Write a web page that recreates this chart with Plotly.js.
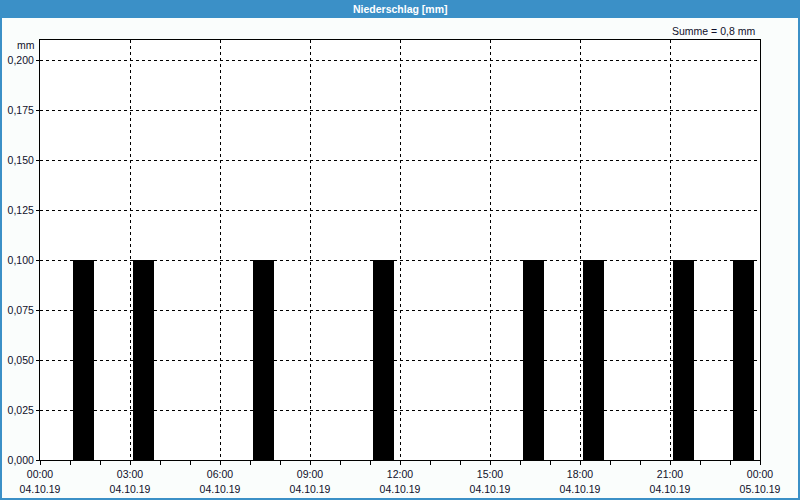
<!DOCTYPE html>
<html>
<head>
<meta charset="utf-8">
<script src="https://cdn.plot.ly/plotly-3.0.1.min.js"></script>
<style>html,body{margin:0;padding:0;background:#fafdfc;}#chart{width:800px;height:500px;}</style>
</head>
<body>
<div id="chart"></div>
<script>
const barTimes = ['2019-10-04 01:00','2019-10-04 03:00','2019-10-04 07:00','2019-10-04 11:00','2019-10-04 16:00','2019-10-04 18:00','2019-10-04 21:00','2019-10-04 23:00'];
const barValues = [0.1,0.1,0.1,0.1,0.1,0.1,0.1,0.1];
const tickTimes = ['2019-10-04 00:00','2019-10-04 03:00','2019-10-04 06:00','2019-10-04 09:00','2019-10-04 12:00','2019-10-04 15:00','2019-10-04 18:00','2019-10-04 21:00','2019-10-05 00:00'];
const timeLabels = ['00:00','03:00','06:00','09:00','12:00','15:00','18:00','21:00','00:00'];
const dateLabels = ['04.10.19','04.10.19','04.10.19','04.10.19','04.10.19','04.10.19','04.10.19','04.10.19','05.10.19'];
const yTicks = [0,0.025,0.05,0.075,0.1,0.125,0.15,0.175,0.2];
const yLabels = ['0,000','0,025','0,050','0,075','0,100','0,125','0,150','0,175','0,200'];
const chartTitle = 'Niederschlag [mm]';
const sumText = 'Summe = 0,8 mm';
const unitText = 'mm';

const H = 3600000;
const W = 800, Ht = 500, L = 40, R = 40, T = 40, B = 40;
const pw = W - L - R, ph = Ht - T - B;
const px = v => (v - L) / pw;
const py = v => (Ht - B - v) / ph;

const FAM = 'Liberation Sans, Arial, sans-serif';
const font = {family: FAM, size: 10.5, color: '#10102a'};

const trace = {
  type: 'bar',
  x: barTimes,
  y: barValues,
  width: barTimes.map(() => 0.7 * H),
  offset: barTimes.map(() => 0.1 * H),
  marker: {color: '#000000', line: {width: 0}},
  hoverinfo: 'x+y'
};
const dateTrace = {
  type: 'scatter', mode: 'markers', x: [tickTimes[0]], y: [null],
  xaxis: 'x2', yaxis: 'y', hoverinfo: 'skip', showlegend: false
};

const layout = {
  width: W, height: Ht,
  margin: {l: L, r: R, t: T, b: B, pad: 0},
  paper_bgcolor: '#fafdfc',
  plot_bgcolor: '#ffffff',
  showlegend: false,
  font: font,
  separators: ',.',
  xaxis: {
    type: 'date',
    range: ['2019-10-04 00:00', '2019-10-05 00:00'],
    tickmode: 'array', tickvals: tickTimes, ticktext: timeLabels,
    ticks: 'outside', ticklen: 4, tickcolor: '#000',
    showgrid: true, gridcolor: '#000', gridwidth: 1, griddash: '3px,3px',
    showline: true, linecolor: '#000', linewidth: 1, mirror: true,
    zeroline: false,
    minor: {dtick: H, ticks: 'outside', ticklen: 4, tickcolor: '#000', showgrid: false},
    tickfont: font
  },
  xaxis2: {
    type: 'date', overlaying: 'x', matches: 'x', anchor: 'y', side: 'bottom',
    range: ['2019-10-04 00:00', '2019-10-05 00:00'],
    tickmode: 'array', tickvals: tickTimes, ticktext: dateLabels,
    ticks: '', showgrid: false, showline: false, zeroline: false,
    ticklabelstandoff: 21,
    tickfont: font
  },
  yaxis: {
    range: [0, 0.21],
    tickmode: 'array', tickvals: yTicks, ticktext: yLabels,
    ticks: 'outside', ticklen: 3, tickcolor: '#000',
    showgrid: true, gridcolor: '#000', gridwidth: 1, griddash: '3px,3px',
    showline: true, linecolor: '#000', linewidth: 1, mirror: true,
    zeroline: false,
    tickfont: font
  },
  shapes: [
    {type: 'rect', xref: 'paper', yref: 'paper', x0: px(0), x1: px(800), y0: py(0), y1: py(18), fillcolor: '#3b90c7', line: {width: 0}, layer: 'above'},
    {type: 'rect', xref: 'paper', yref: 'paper', x0: px(1), x1: px(799), y0: py(1), y1: py(499), fillcolor: 'rgba(0,0,0,0)', line: {color: '#3b90c7', width: 2}, layer: 'above'}
  ],
  annotations: [
    {xref: 'paper', yref: 'paper', x: px(400), y: py(9), text: '<b>' + chartTitle + '</b>', showarrow: false, xanchor: 'center', yanchor: 'middle', font: {family: FAM, size: 10.5, color: '#ffffff'}},
    {xref: 'paper', yref: 'paper', x: px(757), y: py(31), text: sumText, showarrow: false, xanchor: 'right', yanchor: 'middle', font: font},
    {xref: 'paper', yref: 'paper', x: px(37), y: py(45), text: unitText, showarrow: false, xanchor: 'right', yanchor: 'middle', font: font}
  ]
};

Plotly.newPlot('chart', [trace, dateTrace], layout, {displayModeBar: false, staticPlot: true});
</script>
</body>
</html>
